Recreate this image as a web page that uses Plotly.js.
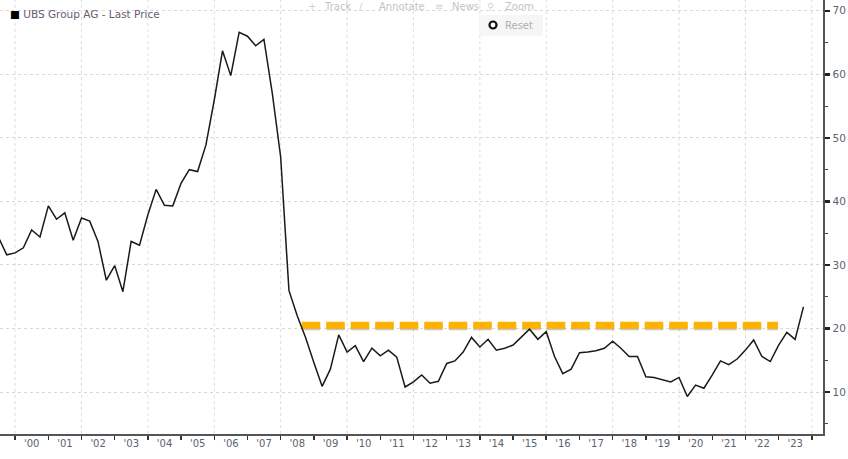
<!DOCTYPE html>
<html>
<head>
<meta charset="utf-8">
<script src="https://cdn.plot.ly/plotly-3.0.1.min.js"></script>
<style>
html,body{margin:0;padding:0;background:#fff;}
#chart{width:848px;height:459px;}
</style>
</head>
<body>
<div id="chart"></div>
<script>
const quarterDates = [
 '1999-07','1999-10',
 '2000-01','2000-04','2000-07','2000-10',
 '2001-01','2001-04','2001-07','2001-10',
 '2002-01','2002-04','2002-07','2002-10',
 '2003-01','2003-04','2003-07','2003-10',
 '2004-01','2004-04','2004-07','2004-10',
 '2005-01','2005-04','2005-07','2005-10',
 '2006-01','2006-04','2006-07','2006-10',
 '2007-01','2007-04','2007-07','2007-10',
 '2008-01','2008-04','2008-07','2008-10',
 '2009-01','2009-04','2009-07','2009-10',
 '2010-01','2010-04','2010-07','2010-10',
 '2011-01','2011-04','2011-07','2011-10',
 '2012-01','2012-04','2012-07','2012-10',
 '2013-01','2013-04','2013-07','2013-10',
 '2014-01','2014-04','2014-07','2014-10',
 '2015-01','2015-04','2015-07','2015-10',
 '2016-01','2016-04','2016-07','2016-10',
 '2017-01','2017-04','2017-07','2017-10',
 '2018-01','2018-04','2018-07','2018-10',
 '2019-01','2019-04','2019-07','2019-10',
 '2020-01','2020-04','2020-07','2020-10',
 '2021-01','2021-04','2021-07','2021-10',
 '2022-01','2022-04','2022-07','2022-10',
 '2023-01','2023-04','2023-07','2023-10'
];
const lastPrice = [
 34.4, 31.6,
 31.9, 32.7, 35.5, 34.4,
 39.3, 37.2, 38.2, 33.9,
 37.4, 36.9, 33.7, 27.6,
 29.9, 25.8, 33.7, 33.1,
 37.9, 41.9, 39.4, 39.3,
 42.9, 45.0, 44.7, 48.9,
 56.0, 63.7, 59.8, 66.6,
 66.0, 64.5, 65.5, 57.0,
 47.0, 26.0, 22.0, 18.6,
 14.6, 10.9, 13.6, 19.0,
 16.3, 17.3, 14.8, 16.9,
 15.7, 16.6, 15.5, 10.8,
 11.6, 12.7, 11.4, 11.7,
 14.5, 14.9, 16.3, 18.6,
 17.1, 18.3, 16.6, 16.9,
 17.4, 18.6, 19.9, 18.3,
 19.5, 15.6, 12.9, 13.6,
 16.2, 16.3, 16.5, 16.9,
 18.0, 16.9, 15.6, 15.6,
 12.4, 12.3, 11.9, 11.6,
 12.3, 9.3, 11.1, 10.6,
 12.7, 14.9, 14.3, 15.2,
 16.6, 18.2, 15.6, 14.8,
 17.4, 19.4, 18.3, 23.4
];
const levelDates = ['2008-08-20', '2022-12-25'];
const levelValues = [20.5, 20.5];
const shadowValues = [20.2, 20.2];
const gridYears = ['2000-01-01','2002-01-01','2004-01-01','2006-01-01','2008-01-01','2010-01-01',
  '2012-01-01','2014-01-01','2016-01-01','2018-01-01','2020-01-01','2022-01-01','2024-01-01'];
const seriesName = 'UBS Group AG - Last Price';

const FONT = 'DejaVu Sans, Verdana, sans-serif';
const W = 823, H = 434;

const traces = [
  {
    x: levelDates, y: shadowValues, type: 'scatter', mode: 'lines',
    line: {color: 'rgba(110,95,70,0.35)', width: 6, dash: '18.5px,6px'},
    hoverinfo: 'skip', showlegend: false
  },
  {
    x: levelDates, y: levelValues, type: 'scatter', mode: 'lines',
    line: {color: '#FFB300', width: 7, dash: '18.5px,6px'},
    hoverinfo: 'skip', showlegend: false
  },
  {
    x: quarterDates, y: lastPrice, type: 'scatter', mode: 'lines',
    line: {color: '#1a1a1a', width: 1.5},
    name: seriesName, showlegend: false
  }
];

// vertical dotted grid every two years
const shapes = gridYears.map(d => ({
  type: 'line', xref: 'x', yref: 'paper', x0: d, x1: d, y0: 0, y1: 1,
  line: {color: '#dcdcdc', width: 1, dash: 'dot'}, layer: 'below'
}));
shapes.push({type: 'rect', xref: 'paper', yref: 'paper',
  x0: 479 / W, x1: 543 / W, y0: 1 - 36 / H, y1: 1 - 15 / H,
  fillcolor: '#f6f6f6', line: {width: 0}, layer: 'below'});
shapes.push({type: 'circle', xref: 'paper', yref: 'paper',
  x0: 489.5 / W, x1: 496.5 / W, y0: 1 - 28.5 / H, y1: 1 - 21.5 / H,
  fillcolor: '#ffffff', line: {color: '#111', width: 2.2}});

function ann(text, px, py, color, size, anchor) {
  return {text: text, xref: 'paper', yref: 'paper', x: px / W, y: 1 - py / H,
    xanchor: anchor || 'left', yanchor: 'middle', showarrow: false,
    font: {family: FONT, size: size || 10, color: color}};
}
const annotations = [
  ann('<span style="color:#000">■</span> ' + seriesName, 8, 14, '#6a5a72', 10.5),
  ann('+', 306, 6, '#d0d0d0', 10),
  ann('Track', 322, 6, '#c4c4c4', 10),
  ann('∕', 357, 6, '#d0d0d0', 10),
  ann('Annotate', 377, 6, '#c4c4c4', 10),
  ann('≡', 433, 6, '#d6d6d6', 10),
  ann('News', 450, 6, '#c4c4c4', 10),
  ann('⚲', 485, 6, '#d6d6d6', 10),
  ann('Zoom', 503, 6, '#c4c4c4', 10),
  ann('Reset', 503, 25, '#b0b0b0', 10)
];

const layout = {
  width: 848, height: 459,
  margin: {l: 0, r: 25, t: 0, b: 25, pad: 0},
  paper_bgcolor: '#ffffff', plot_bgcolor: '#ffffff',
  showlegend: false,
  font: {family: FONT, size: 10, color: '#5a6470'},
  xaxis: {
    type: 'date',
    range: ['1999-07-19', '2024-05-03'],
    tick0: '2000-01-01', dtick: 'M12', tickformat: "'%y",
    ticklabelmode: 'period',
    ticks: 'outside', ticklen: 4, tickwidth: 1.5, tickcolor: '#333',
    ticklabelstandoff: -5,
    showline: true, linecolor: '#555', linewidth: 1.5,
    showgrid: false, zeroline: false,
    tickfont: {family: FONT, size: 10, color: '#5a6470'}
  },
  yaxis: {
    side: 'right',
    range: [3.4, 71.7],
    tick0: 0, dtick: 10,
    ticks: 'outside', ticklen: 5, tickwidth: 2.5, tickcolor: '#222',
    minor: {dtick: 5, ticks: 'outside', ticklen: 3, tickwidth: 1.2, tickcolor: '#444', showgrid: false},
    showline: true, linecolor: '#555', linewidth: 1.5,
    showgrid: true, gridcolor: '#d8d8d8', griddash: 'dot', gridwidth: 1,
    zeroline: false,
    ticklabelstandoff: 1,
    tickfont: {family: FONT, size: 10.5, color: '#5a6470'}
  },
  shapes: shapes,
  annotations: annotations
};

Plotly.newPlot('chart', traces, layout, {displayModeBar: false, staticPlot: true});
</script>
</body>
</html>
